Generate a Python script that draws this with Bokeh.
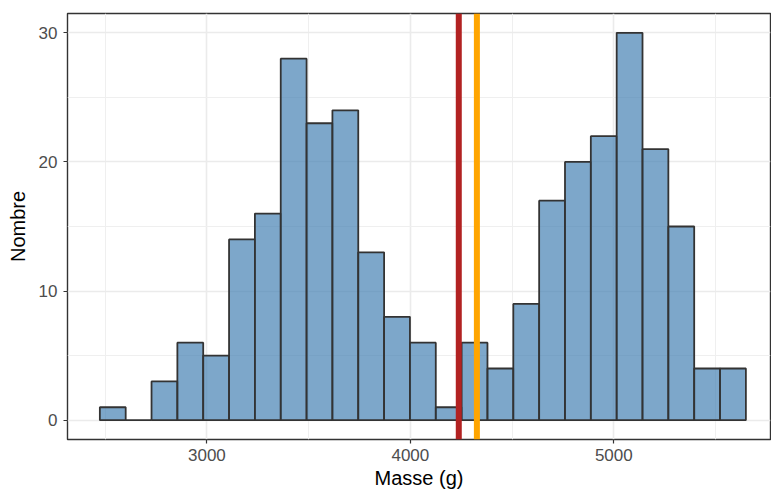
from bokeh.plotting import figure
from bokeh.models import Range1d, FixedTicker, Span, ColumnDataSource
from bokeh.embed import file_html
from bokeh.resources import INLINE

# Histogram data
bin_start = 2474.0
bin_width = 127.0
counts = [1, 0, 3, 6, 5, 14, 16, 28, 23, 24, 13, 8, 6, 1,
          6, 4, 9, 17, 20, 22, 30, 21, 15, 4, 4]
median_mass = 4238.0
mean_mass = 4327.0

x_major = [3000, 4000, 5000]
x_minor = [2500, 3500, 4500, 5500]
y_major = [0, 10, 20, 30]
y_minor = [5, 15, 25]

lefts = [bin_start + i * bin_width for i in range(len(counts))]
rights = [l + bin_width for l in lefts]
src = ColumnDataSource(dict(left=lefts, right=rights, top=counts, bottom=[0] * len(counts)))

FONT = "Liberation Sans"

p = figure(width=771, height=492, output_backend="svg", toolbar_location=None,
           x_range=Range1d(2315, 5770), y_range=Range1d(-1.5, 31.5),
           min_border_left=67, min_border_top=13, min_border_bottom=53, min_border_right=1)
p.background_fill_color = "white"
p.border_fill_color = "white"
p.outline_line_color = "#333333"
p.outline_line_width = 1.4

p.quad(left="left", right="right", top="top", bottom="bottom", source=src,
       fill_color="steelblue", fill_alpha=0.7, line_color="#333333", line_width=1.8)

p.add_layout(Span(location=median_mass, dimension="height", line_color="#B22222", line_width=6))
p.add_layout(Span(location=mean_mass, dimension="height", line_color="#FFA500", line_width=6))

p.xaxis.ticker = FixedTicker(ticks=x_major, minor_ticks=x_minor)
p.yaxis.ticker = FixedTicker(ticks=y_major, minor_ticks=y_minor)

for g in (p.xgrid, p.ygrid):
    g.grid_line_color = "#EBEBEB"
    g.grid_line_width = 1.6
    g.minor_grid_line_color = "#EFEFEF"
    g.minor_grid_line_width = 1.0
    g.level = "underlay"

for ax in (p.xaxis, p.yaxis):
    ax.axis_line_color = None
    ax.major_tick_line_color = "#333333"
    ax.major_tick_line_width = 1.2
    ax.major_tick_out = 4
    ax.major_tick_in = 0
    ax.minor_tick_line_color = None
    ax.major_label_text_font = FONT
    ax.major_label_text_font_size = "17px"
    ax.major_label_text_color = "#4D4D4D"
    ax.axis_label_text_font = FONT
    ax.axis_label_text_font_size = "20px"
    ax.axis_label_text_font_style = "normal"
    ax.axis_label_text_color = "black"

p.xaxis.axis_label = "Masse (g)"
p.yaxis.axis_label = "Nombre"
p.xaxis.major_label_standoff = 5
p.xaxis.axis_label_standoff = 3
p.yaxis.major_label_standoff = 6
p.yaxis.axis_label_standoff = 7

open("out.html", "w").write(file_html(p, INLINE))
